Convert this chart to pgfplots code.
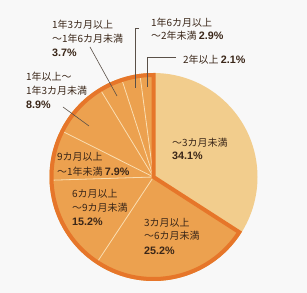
\documentclass[border=0pt]{standalone}
\usepackage{pgfplots}
\pgfplotsset{compat=1.18}
\usepackage{pgfplotstable}
\usepackage{fontspec}
\setmainfont{Noto Sans CJK JP}
\newfontfamily\numfont{Liberation Sans}
\definecolor{bg}{HTML}{F8F8F8}
\definecolor{light}{HTML}{F2CD8D}
\definecolor{mid}{HTML}{ECA14F}
\definecolor{edge}{HTML}{E6762A}
\definecolor{sep}{HTML}{FADDB0}
\definecolor{txt}{HTML}{3A2618}
\definecolor{lead}{HTML}{5A5048}
\pgfplotstableread{
idx value
0 34.1
1 25.2
2 15.2
3 7.9
4 8.9
5 3.7
6 2.9
7 2.1
}\pietable
\newcommand{\pc}[1]{{\numfont\bfseries\fontsize{10.8}{13}\selectfont #1}}
\begin{document}
\begin{tikzpicture}
\begin{axis}[x=1bp,y=1bp,xmin=0,xmax=307,ymin=0,ymax=293,hide axis,scale only axis,enlargelimits=false]
\pgfplotsextra{
 \fill[bg] (axis cs:0,0) rectangle (axis cs:307,293);
 \def\cx{153.5}\def\cy{116}\def\R{104}
 \def\cum{0}
 \pgfplotsforeachungrouped \i in {0,...,7}{%
   \pgfplotstablegetelem{\i}{value}\of{\pietable}\let\val\pgfplotsretval
   \pgfmathsetmacro{\a}{90-3.6*\cum}%
   \pgfmathsetmacro{\cum}{\cum+\val}%
   \pgfmathsetmacro{\b}{90-3.6*\cum}%
   \ifnum\i=0 \def\col{light}\else\def\col{mid}\fi
   \fill[\col] (axis cs:\cx,\cy) -- ++(\a:\R bp) arc[start angle=\a,end angle=\b,radius=\R bp] -- cycle;
   \ifnum\i>1 \draw[sep,line width=0.8bp] (axis cs:\cx,\cy) -- ++(\a:\R bp); \fi
 }%
 \pgfplotstablegetelem{0}{value}\of{\pietable}\let\first\pgfplotsretval
 \pgfmathsetmacro{\e}{90-3.6*\first}%
 \draw[edge,line width=4bp,line join=miter] (axis cs:\cx,\cy) -- ++(\e:102bp) arc[start angle=\e,end angle=-270,radius=102bp] -- cycle;
 % leader lines
 \draw[lead,line width=0.6bp] (axis cs:63,186) -- (axis cs:89,167);
 \draw[lead,line width=0.6bp] (axis cs:90,246) -- (axis cs:117,197);
 \draw[lead,line width=0.6bp] (axis cs:139,265) -- (axis cs:135,265) -- (axis cs:135,205);
 \draw[lead,line width=0.6bp] (axis cs:176,236) -- (axis cs:147,236) -- (axis cs:147,206);
 % labels
 \begingroup
 \tikzset{every node/.style={anchor=base west,inner sep=0pt,text=txt,font=\fontsize{10}{12}\selectfont}}
 \node at (axis cs:172,147) {～3カ月未満};
 \node at (axis cs:172,134) {\pc{34.1\%}};
 \node at (axis cs:144,67) {3カ月以上};
 \node at (axis cs:144,54) {～6カ月未満};
 \node at (axis cs:144,39) {\pc{25.2\%}};
 \node at (axis cs:72,96) {6カ月以上};
 \node at (axis cs:72,82) {～9カ月未満};
 \node at (axis cs:72,68) {\pc{15.2\%}};
 \node at (axis cs:57,133) {9カ月以上};
 \node at (axis cs:57,118) {～1年未満 \pc{7.9\%}};
 \node at (axis cs:26,213) {1年以上～};
 \node at (axis cs:26,199) {1年3カ月未満};
 \node at (axis cs:26,185) {\pc{8.9\%}};
 \node at (axis cs:52,265) {1年3カ月以上};
 \node at (axis cs:52,251) {～1年6カ月未満};
 \node at (axis cs:52,237) {\pc{3.7\%}};
 \node at (axis cs:151,267) {1年6カ月以上};
 \node at (axis cs:151,254) {～2年未満 \pc{2.9\%}};
 \node at (axis cs:183,230) {2年以上 \pc{2.1\%}};
 \endgroup
}
\end{axis}
\end{tikzpicture}
\end{document}
